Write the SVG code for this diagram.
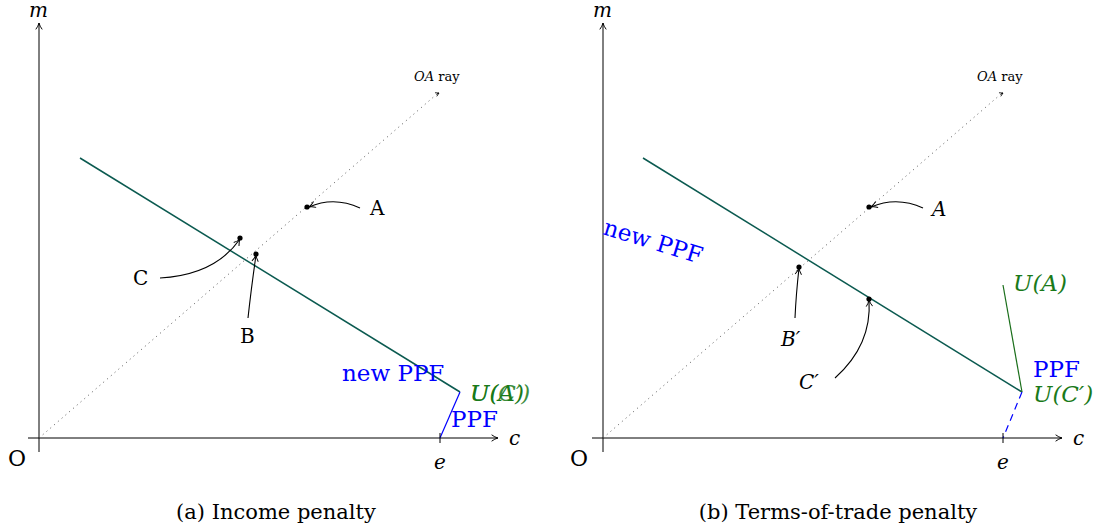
<svg xmlns="http://www.w3.org/2000/svg" width="1106" height="531" viewBox="0 0 1106 531">
<defs>
<marker id="ah" viewBox="0 0 10 10" refX="9" refY="5" markerWidth="8" markerHeight="8" markerUnits="userSpaceOnUse" orient="auto">
<path d="M1,1 Q5,4 9,5 Q5,6 1,9" fill="none" stroke="#000" stroke-width="1.2"/>
</marker>
<marker id="sh" viewBox="0 0 10 10" refX="9" refY="5" markerWidth="5" markerHeight="5" markerUnits="userSpaceOnUse" orient="auto">
<path d="M2,1 L9,5 L2,9" fill="none" stroke="#000" stroke-width="1.5"/>
</marker>
</defs>
<style>
text{font-family:"DejaVu Serif","Liberation Serif",serif;fill:#000}
.m{font-style:italic}
.ax{stroke:#000;stroke-width:1;fill:none}
.ray{stroke:#555;stroke-width:1;stroke-dasharray:1 4;fill:none}
.bud{stroke:#0b5a50;stroke-width:1.5;fill:none}
.ppf{stroke:#0000ff;stroke-width:1.2;fill:none}
.ua{stroke:#1a6e1a;stroke-width:1.2;fill:none}
.ar{stroke:#000;stroke-width:1.1;fill:none}
.blue{fill:#0000ff}
.green{fill:#1a7a1a}
.lbl{font-size:20px}
.o{font-size:22px}
.big{font-size:23px}
.cap{font-size:21px}
.small{font-size:13px}
</style>
<g id="connectors">
<!-- panel a -->
<path class="ax" d="M39,452 V23" marker-end="url(#ah)"/>
<path class="ax" d="M28,438 H498" marker-end="url(#ah)"/>
<path class="ray" d="M39,438 L437,94"/>
<path d="M437,94 L439,93" stroke="#000" marker-end="url(#sh)"/>
<path class="bud" d="M80,158 L460,392"/>
<path class="ppf" d="M460,392 L440,438"/>
<path class="ar" d="M360,208 Q334,196 309,207" marker-end="url(#ah)"/>
<path class="ar" d="M160,278 Q215,275 240,239" marker-end="url(#ah)"/>
<path class="ar" d="M248,318 Q251,290 256,255" marker-end="url(#ah)"/>
<!-- panel b -->
<path class="ax" d="M603,452 V23" marker-end="url(#ah)"/>
<path class="ax" d="M592,438 H1062" marker-end="url(#ah)"/>
<path class="ray" d="M603,438 L1001,94"/>
<path d="M1001,94 L1003,93" stroke="#000" marker-end="url(#sh)"/>
<path class="bud" d="M643,158 L1022,392"/>
<path class="ppf" d="M1022,392 L1003,438" stroke-dasharray="7 5"/>
<path class="ua" d="M1022,392 L1003,285"/>
<path class="ar" d="M923,208 Q897,196 871,207" marker-end="url(#ah)"/>
<path class="ar" d="M795,318 Q796,295 799,268" marker-end="url(#ah)"/>
<path class="ar" d="M835,378 Q872,345 869,300" marker-end="url(#ah)"/>
</g>
<g id="axes-a">
<text class="m lbl" x="29" y="17">m</text>
<text class="m lbl" x="509" y="445">c</text>
<text class="o" x="8" y="466">O</text>
<path d="M440,433 V443" stroke="#000" stroke-width="1"/>
<text class="m lbl" x="440" y="469" text-anchor="middle">e</text>
<text class="small" x="414" y="81"><tspan class="m">OA</tspan> ray</text>
</g>
<g id="node-A"><circle cx="307" cy="207" r="2.6"/><text class="lbl" x="370" y="215">A</text></g>
<g id="node-C"><circle cx="240" cy="238" r="2.6"/><text class="lbl" x="133" y="285">C</text></g>
<g id="node-B"><circle cx="256" cy="254" r="2.6"/><text class="lbl" x="240" y="343">B</text></g>
<g id="labels-a">
<text class="big blue" x="342" y="381">new PPF</text>
<text class="big green m" x="470" y="401">U(A)</text>
<text class="big green m" x="470" y="401" opacity="0.85">U(C′)</text>
<text class="big blue" x="451" y="427">PPF</text>
<text class="cap" x="276" y="519" text-anchor="middle">(a) Income penalty</text>
</g>
<g id="axes-b">
<text class="m lbl" x="593" y="17">m</text>
<text class="m lbl" x="1073" y="445">c</text>
<text class="o" x="570" y="466">O</text>
<path d="M1003,433 V443" stroke="#000" stroke-width="1"/>
<text class="m lbl" x="1003" y="469" text-anchor="middle">e</text>
<text class="small" x="977" y="81"><tspan class="m">OA</tspan> ray</text>
</g>
<g id="node-A2"><circle cx="869" cy="207" r="2.6"/><text class="lbl m" x="932" y="216">A</text></g>
<g id="node-B2"><circle cx="799" cy="267" r="2.6"/><text class="lbl m" x="781" y="346">B′</text></g>
<g id="node-C2"><circle cx="869" cy="299" r="2.6"/><text class="lbl m" x="799" y="389">C′</text></g>
<g id="labels-b">
<text class="big blue" x="0" y="0" transform="translate(602,234) rotate(17)">new PPF</text>
<text class="big green m" x="1013" y="291">U(A)</text>
<text class="big blue" x="1033" y="377">PPF</text>
<text class="big green m" x="1033" y="402">U(C′)</text>
<text class="cap" x="838" y="519" text-anchor="middle">(b) Terms-of-trade penalty</text>
</g>
</svg>
